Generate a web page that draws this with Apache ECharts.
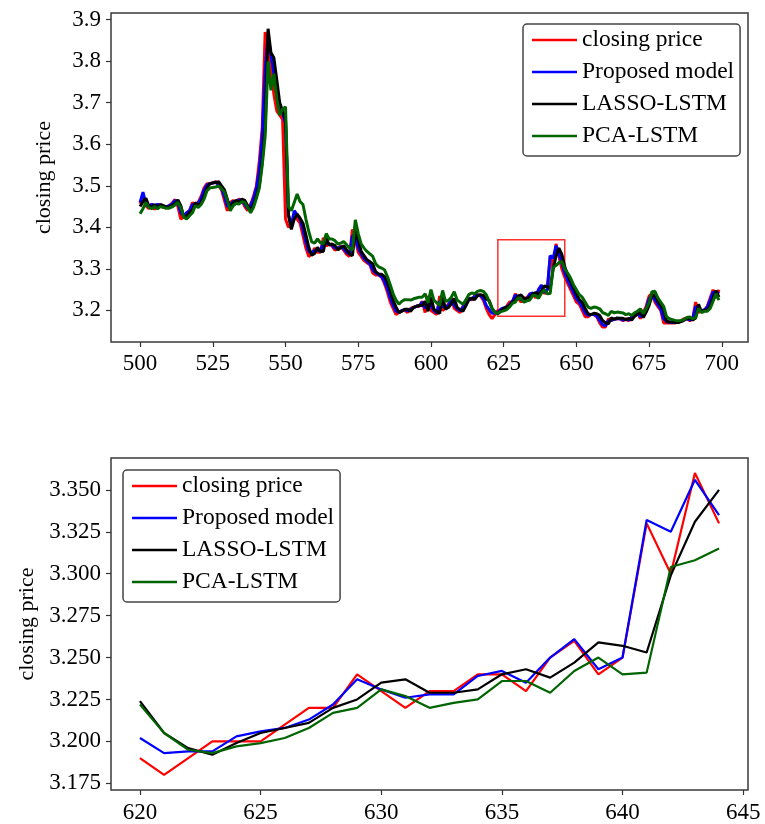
<!DOCTYPE html>
<html><head><meta charset="utf-8">
<script src="https://cdn.jsdelivr.net/npm/echarts@6/dist/echarts.min.js"></script>
<style>html,body{margin:0;padding:0;background:#fff}#c{width:765px;height:824px}</style>
</head><body><div id="c"></div>
<script>
const seriesNames = ['closing price', 'Proposed model', 'LASSO-LSTM', 'PCA-LSTM'];
const seriesColors = ['#ff0000', '#0000ff', '#000000', '#006400'];

const topStart = 500;
const zoomStart = 620;
const tailStart = 645;

// ----- zoomed window 620..644 (bottom panel) -----
const zoomRed = [3.19,3.18,3.19,3.20,3.20,3.20,3.21,3.22,3.22,3.24,3.23,3.22,3.23,3.23,3.24,3.24,3.23,3.25,3.26,3.24,3.25,3.33,3.30,3.36,3.33];
const zoomProposed = [3.202,3.193,3.194,3.194,3.203,3.206,3.208,3.213,3.222,3.237,3.231,3.226,3.228,3.228,3.239,3.242,3.235,3.250,3.261,3.243,3.250,3.332,3.325,3.356,3.335];
const zoomLasso = [3.224,3.205,3.196,3.192,3.199,3.205,3.208,3.211,3.220,3.225,3.235,3.237,3.229,3.229,3.231,3.240,3.243,3.238,3.247,3.259,3.257,3.253,3.299,3.331,3.350];
const zoomPca = [3.222,3.205,3.195,3.193,3.197,3.199,3.202,3.208,3.217,3.220,3.231,3.227,3.220,3.223,3.225,3.236,3.236,3.229,3.242,3.250,3.240,3.241,3.304,3.308,3.315];

// ----- top panel 500..619 -----
const headRed = [
3.457,3.475,3.452,3.445,3.457,3.443,3.455,3.452,3.448,3.447,
3.452,3.458,3.467,3.450,3.420,3.425,3.435,3.440,3.460,3.450,
3.460,3.475,3.495,3.505,3.505,3.507,3.510,3.500,3.490,3.465,
3.440,3.460,3.465,3.460,3.468,3.465,3.450,3.440,3.455,3.475,
3.500,3.560,3.640,3.870,3.830,3.780,3.720,3.680,3.670,3.660,
3.420,3.400,3.410,3.425,3.420,3.410,3.380,3.350,3.330,3.335,
3.350,3.340,3.340,3.375,3.355,3.360,3.355,3.345,3.350,3.355,
3.345,3.335,3.330,3.395,3.370,3.340,3.330,3.320,3.315,3.310,
3.290,3.285,3.285,3.280,3.265,3.245,3.220,3.205,3.190,3.195,
3.200,3.200,3.195,3.205,3.208,3.210,3.210,3.222,3.195,3.235,
3.200,3.195,3.190,3.235,3.200,3.205,3.215,3.230,3.205,3.200,
3.195,3.210,3.225,3.230,3.225,3.235,3.238,3.235,3.225,3.205];
const headProposed = [
3.460,3.485,3.455,3.450,3.455,3.452,3.455,3.452,3.450,3.450,
3.452,3.456,3.465,3.460,3.435,3.428,3.435,3.440,3.455,3.455,
3.458,3.470,3.490,3.502,3.505,3.507,3.509,3.503,3.493,3.475,
3.450,3.455,3.462,3.462,3.466,3.466,3.455,3.445,3.452,3.470,
3.495,3.540,3.620,3.780,3.860,3.815,3.770,3.720,3.690,3.675,
3.650,3.430,3.405,3.440,3.430,3.420,3.395,3.365,3.342,3.338,
3.345,3.345,3.342,3.365,3.362,3.360,3.357,3.350,3.350,3.353,
3.349,3.340,3.335,3.380,3.378,3.350,3.337,3.325,3.318,3.312,
3.298,3.290,3.286,3.282,3.270,3.253,3.230,3.212,3.198,3.196,
3.200,3.202,3.199,3.203,3.207,3.210,3.211,3.220,3.205,3.225,
3.212,3.200,3.194,3.222,3.210,3.206,3.213,3.226,3.212,3.204,
3.199,3.207,3.220,3.228,3.227,3.233,3.237,3.236,3.229,3.212];
const headLasso = [
3.450,3.462,3.470,3.452,3.448,3.455,3.447,3.455,3.452,3.449,
3.449,3.453,3.458,3.466,3.452,3.425,3.427,3.436,3.442,3.460,
3.452,3.460,3.475,3.495,3.505,3.507,3.508,3.510,3.500,3.490,
3.468,3.445,3.460,3.465,3.461,3.468,3.465,3.452,3.442,3.455,
3.475,3.500,3.560,3.640,3.878,3.820,3.808,3.755,3.700,3.680,
3.660,3.430,3.395,3.420,3.432,3.422,3.410,3.382,3.352,3.333,
3.337,3.352,3.342,3.342,3.375,3.357,3.360,3.356,3.346,3.351,
3.356,3.346,3.336,3.332,3.393,3.370,3.342,3.332,3.322,3.317,
3.312,3.293,3.288,3.287,3.282,3.268,3.248,3.224,3.208,3.195,
3.198,3.203,3.203,3.198,3.207,3.210,3.212,3.212,3.222,3.198,
3.232,3.203,3.197,3.193,3.232,3.203,3.207,3.216,3.229,3.207,
3.202,3.198,3.211,3.225,3.230,3.226,3.235,3.238,3.236,3.227];
const headPca = [
3.433,3.445,3.460,3.448,3.445,3.450,3.445,3.450,3.448,3.446,
3.446,3.449,3.454,3.460,3.448,3.425,3.420,3.428,3.435,3.452,
3.448,3.455,3.468,3.488,3.495,3.496,3.497,3.500,3.493,3.485,
3.465,3.440,3.452,3.458,3.456,3.462,3.460,3.448,3.435,3.448,
3.470,3.495,3.550,3.620,3.800,3.730,3.770,3.710,3.670,3.685,
3.690,3.450,3.440,3.460,3.480,3.462,3.455,3.420,3.390,3.365,
3.362,3.372,3.363,3.360,3.385,3.372,3.372,3.368,3.360,3.362,
3.366,3.358,3.350,3.345,3.418,3.385,3.360,3.350,3.342,3.336,
3.330,3.312,3.305,3.302,3.298,3.282,3.262,3.240,3.225,3.215,
3.222,3.226,3.226,3.225,3.228,3.230,3.232,3.232,3.240,3.218,
3.250,3.225,3.218,3.212,3.248,3.222,3.224,3.232,3.245,3.225,
3.220,3.215,3.225,3.238,3.242,3.240,3.246,3.248,3.246,3.238];

// ----- top panel 645..699 -----
const tailRed = [
3.300,3.280,3.265,3.250,3.235,
3.220,3.215,3.200,3.185,3.185,3.190,3.190,3.185,3.170,3.160,
3.160,3.180,3.175,3.180,3.180,3.180,3.175,3.180,3.175,3.185,
3.190,3.195,3.180,3.195,3.210,3.235,3.240,3.220,3.210,3.200,
3.170,3.170,3.170,3.170,3.170,3.172,3.175,3.180,3.180,3.175,
3.180,3.220,3.195,3.200,3.200,3.210,3.230,3.250,3.230,3.250];
const tailProposed = [
3.315,3.290,3.272,3.258,3.243,
3.228,3.220,3.208,3.194,3.188,3.190,3.190,3.187,3.176,3.166,
3.163,3.175,3.176,3.179,3.180,3.180,3.177,3.179,3.177,3.183,
3.188,3.193,3.185,3.192,3.205,3.228,3.238,3.226,3.214,3.204,
3.180,3.173,3.172,3.171,3.171,3.172,3.174,3.178,3.180,3.177,
3.179,3.210,3.200,3.200,3.201,3.208,3.225,3.245,3.238,3.245];
const tailLasso = [
3.335,3.305,3.285,3.270,3.255,
3.240,3.226,3.220,3.205,3.192,3.190,3.193,3.192,3.188,3.176,
3.170,3.168,3.182,3.178,3.182,3.181,3.181,3.177,3.181,3.177,
3.186,3.191,3.196,3.183,3.196,3.212,3.236,3.238,3.222,3.212,
3.202,3.174,3.172,3.172,3.171,3.171,3.173,3.176,3.181,3.181,
3.177,3.182,3.215,3.197,3.201,3.201,3.211,3.230,3.248,3.232];
const tailPca = [
3.318,3.300,3.290,3.278,3.262,
3.250,3.238,3.232,3.220,3.208,3.205,3.208,3.207,3.204,3.195,
3.192,3.188,3.198,3.194,3.196,3.195,3.194,3.190,3.192,3.188,
3.194,3.198,3.204,3.193,3.204,3.218,3.245,3.246,3.230,3.220,
3.210,3.185,3.180,3.178,3.176,3.175,3.176,3.178,3.183,3.184,
3.180,3.183,3.205,3.195,3.198,3.198,3.205,3.222,3.240,3.225];

// ----- axes -----
const topXTicks = [500,525,550,575,600,625,650,675,700];
const topYTicks = [3.2,3.3,3.4,3.5,3.6,3.7,3.8,3.9];
const zoomXTicks = [620,625,630,635,640,645];
const zoomYTicks = [3.175,3.2,3.225,3.25,3.275,3.3,3.325,3.35];
const topXRange = [490, 709];
const topYRange = [3.124, 3.916];
const zoomXRange = [618.8, 645.2];
const zoomYRange = [3.171, 3.369];
const zoomBox = [623, 646, 3.186, 3.37];

const FONT = '"Liberation Serif", "Times New Roman", serif';

function pairs(start, arr) { return arr.map((v, i) => [start + i, v]); }

const topData = [
  headRed.concat(zoomRed, tailRed),
  headProposed.concat(zoomProposed, tailProposed),
  headLasso.concat(zoomLasso, tailLasso),
  headPca.concat(zoomPca, tailPca)
];
const zoomData = [zoomRed, zoomProposed, zoomLasso, zoomPca];

function xAx(gi, range, ticks, margin) {
  return {
    type: 'value', gridIndex: gi, min: range[0], max: range[1],
    axisLine: { show: false },
    axisTick: { show: true, customValues: ticks, length: 5, lineStyle: { color: '#333', width: 1.2 } },
    axisLabel: { customValues: ticks, fontFamily: FONT, fontSize: 23, color: '#000', margin: margin },
    splitLine: { show: false }
  };
}
function yAx(gi, range, ticks, dec, gap) {
  return {
    type: 'value', gridIndex: gi, min: range[0], max: range[1],
    name: 'closing price', nameLocation: 'middle', nameGap: gap,
    nameTextStyle: { fontFamily: FONT, fontSize: 22, color: '#000' },
    axisLine: { show: false },
    axisTick: { show: true, customValues: ticks, length: 5, lineStyle: { color: '#333', width: 1.2 } },
    axisLabel: { customValues: ticks, fontFamily: FONT, fontSize: 23, color: '#000', margin: 10,
      formatter: v => v.toFixed(dec) },
    splitLine: { show: false }
  };
}

function legendAt(left, top) {
  return {
    data: seriesNames, orient: 'vertical', left: left, top: top,
    padding: [4, 6, 8, 9], itemGap: 8, itemWidth: 45, itemHeight: 2.5, icon: 'rect',
    borderColor: '#444', borderWidth: 1.5, borderRadius: 4, backgroundColor: '#fff',
    textStyle: { fontFamily: FONT, fontSize: 23.5, color: '#000', lineHeight: 24 },
    selectedMode: false, z: 10
  };
}

const series = [];
seriesNames.forEach((n, k) => {
  const s = {
    type: 'line', name: n, xAxisIndex: 0, yAxisIndex: 0,
    data: pairs(topStart, topData[k]), showSymbol: false, symbol: 'none',
    lineStyle: { color: seriesColors[k], width: 3 }, itemStyle: { color: seriesColors[k] },
    z: 2 + k
  };
  if (k === 0) {
    s.markArea = {
      silent: true,
      itemStyle: { color: 'rgba(0,0,0,0)', borderColor: '#ff3030', borderWidth: 1.5 },
      data: [[{ xAxis: zoomBox[0], yAxis: zoomBox[3] }, { xAxis: zoomBox[1], yAxis: zoomBox[2] }]]
    };
  }
  series.push(s);
});
seriesNames.forEach((n, k) => {
  series.push({
    type: 'line', name: n, xAxisIndex: 1, yAxisIndex: 1,
    data: pairs(zoomStart, zoomData[k]), showSymbol: false, symbol: 'none',
    lineStyle: { color: seriesColors[k], width: 2.2 }, itemStyle: { color: seriesColors[k] },
    z: 2 + k
  });
});

const chart = echarts.init(document.getElementById('c'), null, { renderer: 'canvas' });
chart.setOption({
  animation: false,
  backgroundColor: '#fff',
  grid: [
    { left: 111, top: 13, width: 637, height: 329, show: true, borderColor: '#3a3a3a', borderWidth: 1.5, backgroundColor: 'transparent' },
    { left: 111, top: 458, width: 637, height: 332, show: true, borderColor: '#3a3a3a', borderWidth: 1.5, backgroundColor: 'transparent' }
  ],
  xAxis: [xAx(0, topXRange, topXTicks, 10), xAx(1, zoomXRange, zoomXTicks, 11)],
  yAxis: [yAx(0, topYRange, topYTicks, 1, 56), yAx(1, zoomYRange, zoomYTicks, 3, 72)],
  legend: [legendAt(523, 24), legendAt(123, 470)],
  series: series
});
</script>
</body></html>
